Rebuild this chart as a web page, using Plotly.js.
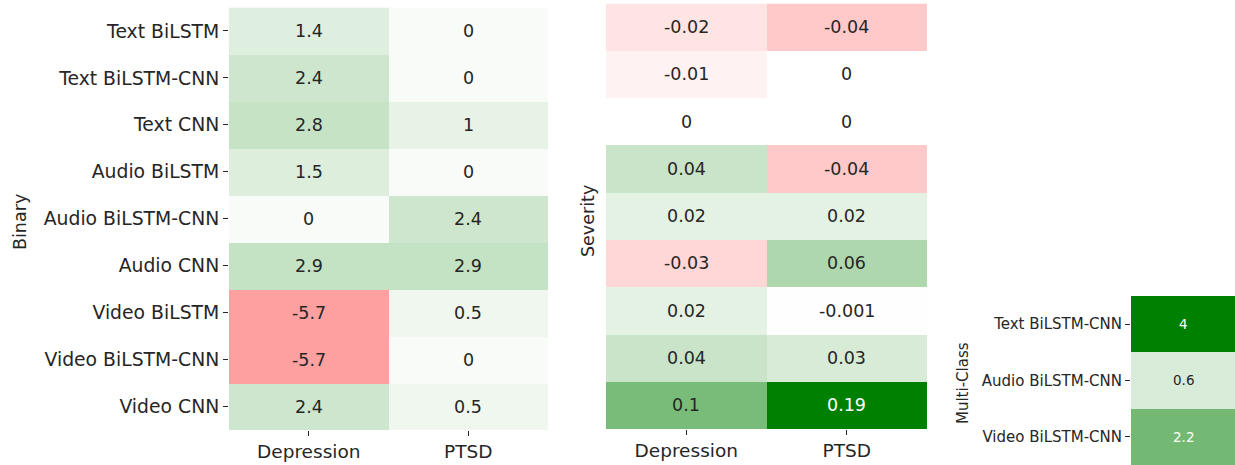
<!DOCTYPE html>
<html>
<head>
<meta charset="utf-8">
<script src="https://cdn.plot.ly/plotly-3.0.1.min.js"></script>
<style>html,body{margin:0;padding:0;background:#fff;}#chart{width:1235px;height:465px;}</style>
</head>
<body>
<div id="chart"></div>
<script>
// ---- data ----
const models = ['Text BiLSTM','Text BiLSTM-CNN','Text CNN','Audio BiLSTM','Audio BiLSTM-CNN','Audio CNN','Video BiLSTM','Video BiLSTM-CNN','Video CNN'];
const tasks = ['Depression','PTSD'];
const binaryDepression = [1.4, 2.4, 2.8, 1.5, 0, 2.9, -5.7, -5.7, 2.4];
const binaryPTSD       = [0, 0, 1, 0, 2.4, 2.9, 0.5, 0, 0.5];
const severityDepression = [-0.02, -0.01, 0, 0.04, 0.02, -0.03, 0.02, 0.04, 0.1];
const severityPTSD       = [-0.04, 0, 0, -0.04, 0.02, 0.06, -0.001, 0.03, 0.19];
const multiModels = ['Text BiLSTM-CNN','Audio BiLSTM-CNN','Video BiLSTM-CNN'];
const multiValues = [4, 0.6, 2.2];
const multiColumn = ['Multi-Class'];

// ---- style ----
const FONT = 'DejaVu Sans, sans-serif';
const TXT = '#262626';
const csStops = [[0,[255,0,0]],[0.5,[255,255,255]],[1,[0,128,0]]];
const colorscale = csStops.map(s => [s[0], 'rgb(' + s[1].join(',') + ')']);
const ranges = {binary: [-14.7, 13.9], severity: [-0.19, 0.19], multi: [-4, 4]};

function colorAt(v, r) {
  let t = (v - r[0]) / (r[1] - r[0]);
  t = Math.max(0, Math.min(1, t));
  for (let i = 1; i < csStops.length; i++) {
    if (t <= csStops[i][0]) {
      const a = csStops[i-1], b = csStops[i];
      const f = (t - a[0]) / (b[0] - a[0]);
      return a[1].map((c, k) => c + (b[1][k] - c) * f);
    }
  }
  return csStops[csStops.length-1][1];
}
function lum(rgb) {
  const l = rgb.map(c => { c /= 255; return c <= 0.03928 ? c/12.92 : Math.pow((c+0.055)/1.055, 2.4); });
  return 0.2126*l[0] + 0.7152*l[1] + 0.0722*l[2];
}
function textColor(v, r) { return lum(colorAt(v, r)) > 0.408 ? TXT : '#ffffff'; }

const zBinary = models.map((m, i) => [binaryDepression[i], binaryPTSD[i]]);
const zSeverity = models.map((m, i) => [severityDepression[i], severityPTSD[i]]);
const zMulti = multiModels.map((m, i) => [multiValues[i]]);

const traces = [
  {type:'heatmap', x:tasks, y:models, z:zBinary, xaxis:'x', yaxis:'y', colorscale, zmin:ranges.binary[0], zmax:ranges.binary[1], showscale:false, hoverinfo:'skip'},
  {type:'heatmap', x:tasks, y:models, z:zSeverity, xaxis:'x2', yaxis:'y2', colorscale, zmin:ranges.severity[0], zmax:ranges.severity[1], showscale:false, hoverinfo:'skip'},
  {type:'heatmap', x:multiColumn, y:multiModels, z:zMulti, xaxis:'x3', yaxis:'y3', colorscale, zmin:ranges.multi[0], zmax:ranges.multi[1], showscale:false, hoverinfo:'skip'}
];

const annotations = [];
function addCellText(z, xs, ys, xa, ya, r, size) {
  ys.forEach((yy, i) => xs.forEach((xx, j) => {
    const v = z[i][j];
    annotations.push({x:xx, y:yy, xref:xa, yref:ya, text:String(v), showarrow:false,
      font:{family:FONT, size:size, color:textColor(v, r)}});
  }));
}
addCellText(zBinary, tasks, models, 'x', 'y', ranges.binary, 17.5);
addCellText(zSeverity, tasks, models, 'x2', 'y2', ranges.severity, 17.5);
addCellText(zMulti, multiColumn, multiModels, 'x3', 'y3', ranges.multi, 13.5);

annotations.push({text:'Binary', xref:'paper', yref:'paper', x:20/1235, y:(465-222)/465, textangle:-90, showarrow:false, xanchor:'center', yanchor:'middle', font:{family:FONT, size:17.5, color:TXT}});
annotations.push({text:'Severity', xref:'paper', yref:'paper', x:588/1235, y:(465-221)/465, textangle:-90, showarrow:false, xanchor:'center', yanchor:'middle', font:{family:FONT, size:17.5, color:TXT}});
annotations.push({text:'Multi-Class', xref:'paper', yref:'paper', x:963/1235, y:(465-383)/465, textangle:-90, showarrow:false, xanchor:'center', yanchor:'middle', font:{family:FONT, size:15, color:TXT}});

const baseAxis = {showgrid:false, zeroline:false, showline:false, ticks:'outside', ticklen:5, tickwidth:1, tickcolor:TXT, fixedrange:true};
const layout = {
  width:1235, height:465, margin:{l:0, r:0, t:0, b:0}, paper_bgcolor:'#fff', plot_bgcolor:'#fff',
  font:{family:FONT, color:TXT},
  xaxis: Object.assign({}, baseAxis, {domain:[229/1235, 548/1235], anchor:'y', type:'category', tickfont:{family:FONT, size:18.5, color:TXT}}),
  yaxis: Object.assign({}, baseAxis, {domain:[35/465, 457.5/465], anchor:'x', type:'category', autorange:'reversed', tickfont:{family:FONT, size:18.8, color:TXT}}),
  xaxis2: Object.assign({}, baseAxis, {domain:[606/1235, 927/1235], anchor:'y2', type:'category', tickfont:{family:FONT, size:18.5, color:TXT}}),
  yaxis2: Object.assign({}, baseAxis, {domain:[36/465, 461.6/465], anchor:'x2', type:'category', autorange:'reversed', ticks:'', showticklabels:false}),
  xaxis3: Object.assign({}, baseAxis, {domain:[1131/1235, 1], anchor:'y3', type:'category', range:[-0.5, 0.5], autorange:false, ticks:'', showticklabels:false}),
  yaxis3: Object.assign({}, baseAxis, {domain:[0, 169/465], anchor:'x3', type:'category', autorange:'reversed', tickfont:{family:FONT, size:15, color:TXT}}),
  annotations: annotations,
  showlegend:false
};
Plotly.newPlot('chart', traces, layout, {displayModeBar:false, staticPlot:true});
</script>
</body>
</html>
